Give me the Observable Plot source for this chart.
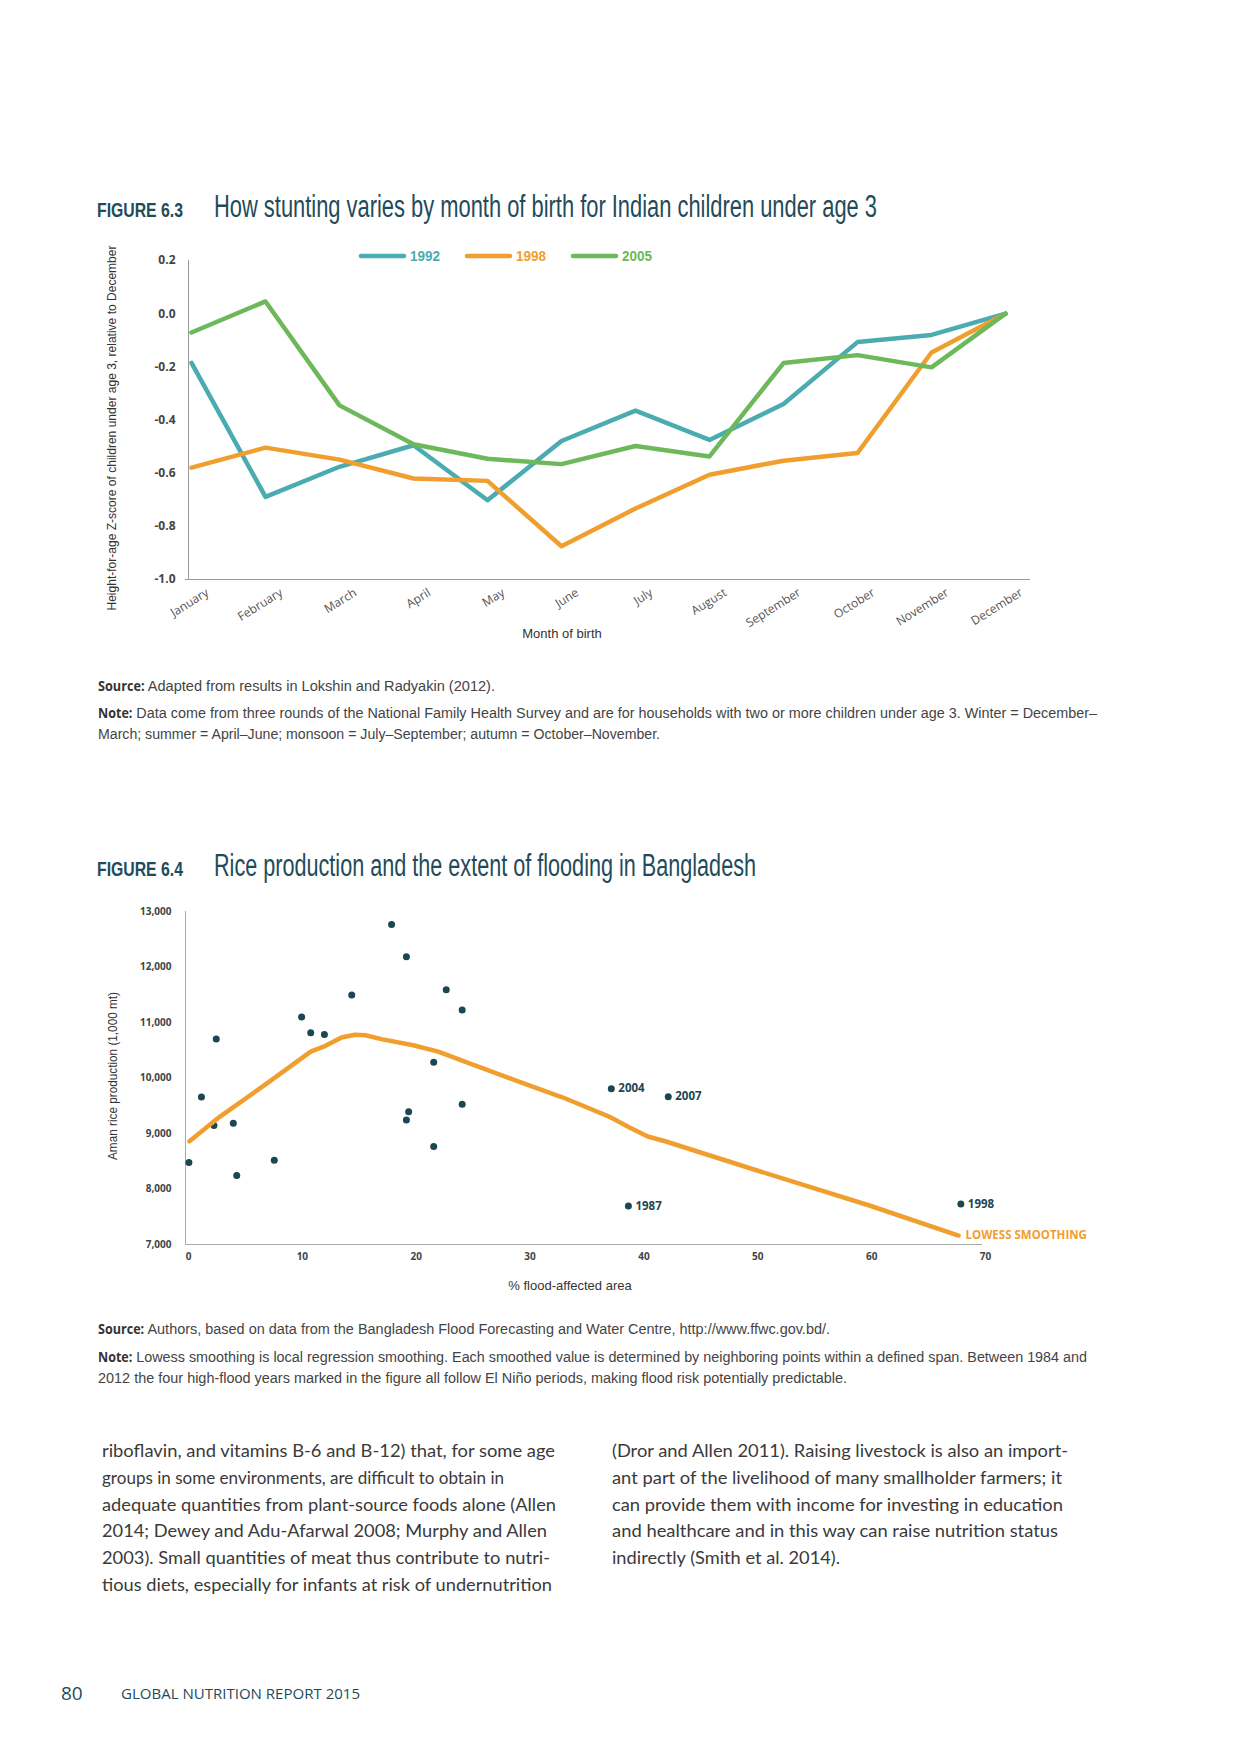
<!DOCTYPE html>
<html><head><meta charset="utf-8">
<script src="https://cdn.jsdelivr.net/npm/d3@7"></script>
<script src="https://cdn.jsdelivr.net/npm/@observablehq/plot@0.6"></script>
<style>
html,body{margin:0;padding:0;background:#fff;}
#page{position:relative;width:1240px;height:1754px;overflow:hidden;background:#fff;}
#page > svg{position:absolute;left:0;}
</style></head><body><div id="page"></div>
<script>
// ---------- Figure 6.3 data ----------
const months = ["January","February","March","April","May","June","July","August","September","October","November","December"];
const seriesNames = ["1992","1998","2005"];
const seriesColors = ["#4aacb0","#f09e2d","#6cb85b"];
const v1992 = [-0.185,-0.689,-0.576,-0.495,-0.702,-0.479,-0.365,-0.475,-0.340,-0.107,-0.080,0.000];
const v1998 = [-0.579,-0.504,-0.549,-0.620,-0.629,-0.875,-0.733,-0.606,-0.553,-0.524,-0.146,0.000];
const v2005 = [-0.071,0.046,-0.345,-0.491,-0.546,-0.566,-0.498,-0.537,-0.186,-0.156,-0.202,0.000];
const yTicks63 = [0.2,0.0,-0.2,-0.4,-0.6,-0.8,-1.0];
const yLabel63 = "Height-for-age Z-score of children under age 3, relative to December";
const xLabel63 = "Month of birth";

// ---------- Figure 6.4 data ----------
const floodPct = [0.3,1.4,2.7,2.5,4.2,4.5,7.8,10.2,11.0,12.2,14.6,18.1,19.4,22.9,24.3,21.8,19.6,19.4,24.3,21.8];
const riceProd = [8476,9658,10702,9142,9184,8242,8518,11098,10816,10786,11494,12766,12184,11590,11224,10282,9394,9244,9526,8764];
const highYears = ["2004","2007","1987","1998"];
const highPct = [37.4,42.4,38.9,68.1];
const highRice = [9808,9662,7695,7730];
const lowessPct = [0.35,3,7,11,12.3,13.7,14.9,15.8,17.2,20,22.2,25,30,33.1,35.7,37.2,39,40.6,42.2,50,60,67.9];
const lowessRice = [8860,9300,9880,10474,10580,10730,10780,10770,10700,10590,10474,10258,9880,9653,9432,9305,9110,8946,8856,8347,7707,7162];
const lowessLabel = "LOWESS SMOOTHING";
const xTicks64 = [0,10,20,30,40,50,60,70];
const yTicks64 = [7000,8000,9000,10000,11000,12000,13000];
const yLabel64 = "Aman rice production (1,000 mt)";
const xLabel64 = "% flood-affected area";

// ---------- page text ----------
const fig63 = "FIGURE 6.3", title63 = "How stunting varies by month of birth for Indian children under age 3";
const fig64 = "FIGURE 6.4", title64 = "Rice production and the extent of flooding in Bangladesh";
const source63 = "Adapted from results in Lokshin and Radyakin (2012).";
const note63 = ["Data come from three rounds of the National Family Health Survey and are for households with two or more children under age 3. Winter = December–",
                "March; summer = April–June; monsoon = July–September; autumn = October–November."];
const source64 = "Authors, based on data from the Bangladesh Flood Forecasting and Water Centre, http://www.ffwc.gov.bd/.";
const note64 = ["Lowess smoothing is local regression smoothing. Each smoothed value is determined by neighboring points within a defined span. Between 1984 and",
                "2012 the four high-flood years marked in the figure all follow El Niño periods, making flood risk potentially predictable."];
const bodyLeft = ["riboflavin, and vitamins B-6 and B-12) that, for some age",
  "groups in some environments, are difficult to obtain in",
  "adequate quantities from plant-source foods alone (Allen",
  "2014; Dewey and Adu-Afarwal 2008; Murphy and Allen",
  "2003). Small quantities of meat thus contribute to nutri-",
  "tious diets, especially for infants at risk of undernutrition"];
const bodyRight = ["(Dror and Allen 2011). Raising livestock is also an import-",
  "ant part of the livelihood of many smallholder farmers; it",
  "can provide them with income for investing in education",
  "and healthcare and in this way can raise nutrition status",
  "indirectly (Smith et al. 2014)."];
const footerNum = "80", footerText = "GLOBAL NUTRITION REPORT 2015";

const TEAL_DARK = "#1f4b5a", DOT = "#1b4654", ORANGE = "#f09e2d";
const NARROW = "'Liberation Sans Narrow', 'Arial Narrow', 'Liberation Sans', sans-serif";
const SANS = "'Open Sans', 'Noto Sans', sans-serif";

const page = d3.select("#page");

function fitText(svg, cls, len){
  d3.select(svg).selectAll("g." + cls + " text")
    .attr("textLength", len).attr("lengthAdjust", "spacingAndGlyphs");
}

// ---------- Figure 6.3 chart ----------
const rows63 = months.flatMap((m,i)=>[
  {month:m, series:seriesNames[0], value:v1992[i]},
  {month:m, series:seriesNames[1], value:v1998[i]},
  {month:m, series:seriesNames[2], value:v2005[i]}
]);
const c1 = Plot.plot({
  width:1240, height:420, marginTop:30, marginBottom:71, marginLeft:185, marginRight:210,
  style:{fontFamily:SANS, fontSize:"12px", color:"#444", background:"transparent"},
  x:{type:"point", domain:months, range:[188,1008], padding:0, axis:null},
  y:{domain:[-1,0.2]},
  color:{domain:seriesNames, range:seriesColors},
  marks:[
    Plot.ruleY([-1], {stroke:"#9a9a9a", strokeWidth:1}),
    Plot.ruleX([months[0]], {y1:-1, y2:0.2, dx:-3, stroke:"#9a9a9a", strokeWidth:1}),
    Plot.axisY(yTicks63, {tickSize:0, tickPadding:10, tickFormat:d=>d.toFixed(1), fontWeight:"bold", fontSize:12, fill:"#444", label:null}),
    Plot.line(rows63, {x:"month", y:"value", z:"series", stroke:"series", strokeWidth:4.5, strokeLinejoin:"round", strokeLinecap:"round"}),
    Plot.text(months, {x:d=>d, text:d=>d, frameAnchor:"bottom", textAnchor:"end", lineAnchor:"middle", rotate:-32, dx:16, dy:12, fill:"#555", fontSize:12, fontFamily:SANS}),
    Plot.text([yLabel63], {text:d=>d, frameAnchor:"left", textAnchor:"middle", lineAnchor:"middle", rotate:-90, dx:-74, dy:8, fontFamily:NARROW, fontSize:12.5, fill:"#333", className:"ylab63"}),
    Plot.text([xLabel63], {text:d=>d, frameAnchor:"bottom", textAnchor:"middle", lineAnchor:"middle", dx:-46, dy:54, fontFamily:NARROW, fontSize:13, fill:"#333"})
  ]
});
fitText(c1, "ylab63", 365);
c1.style.top = "230px";
page.node().appendChild(c1);

// ---------- Figure 6.4 chart ----------
const pts = floodPct.map((x,i)=>({x, y:riceProd[i]}));
const hi = highYears.map((yr,i)=>({yr, x:highPct[i], y:highRice[i]}));
const low = lowessPct.map((x,i)=>({x, y:lowessRice[i]}));
const c2 = Plot.plot({
  width:1240, height:430, marginTop:31, marginBottom:66, marginLeft:185, marginRight:258,
  style:{fontFamily:SANS, fontSize:"10px", color:"#444", background:"transparent"},
  x:{domain:[0,70]},
  y:{domain:[7000,13000]},
  marks:[
    Plot.ruleY([7000], {stroke:"#aaa", strokeWidth:1}),
    Plot.ruleX([0], {y1:7000, y2:13000, stroke:"#aaa", strokeWidth:1}),
    Plot.axisY(yTicks64, {tickSize:0, tickPadding:14, tickFormat:d3.format(","), fontWeight:"bold", fontSize:10, fill:"#444", label:null}),
    Plot.axisX(xTicks64, {tickSize:0, tickPadding:8, tickFormat:d=>String(d), fontWeight:"bold", fontSize:10, fill:"#444", label:null, dx:3}),
    Plot.dot(pts, {x:"x", y:"y", r:3.5, fill:DOT}),
    Plot.dot(hi, {x:"x", y:"y", r:3.5, fill:DOT}),
    Plot.line(low, {x:"x", y:"y", stroke:ORANGE, strokeWidth:4.5, strokeLinejoin:"round", strokeLinecap:"round"}),
    Plot.text(hi, {x:"x", y:"y", text:"yr", dx:7, textAnchor:"start", fontWeight:"bold", fontSize:11.5, fill:DOT, fontFamily:SANS}),
    Plot.text([low[low.length-1]], {x:"x", y:"y", text:()=>lowessLabel, dx:7, textAnchor:"start", fontWeight:"bold", fontSize:11.5, fill:ORANGE, fontFamily:SANS}),
    Plot.text([yLabel64], {text:d=>d, frameAnchor:"left", textAnchor:"middle", lineAnchor:"middle", rotate:-90, dx:-73, dy:-2, fontFamily:NARROW, fontSize:13, fill:"#333", className:"ylab64"}),
    Plot.text([xLabel64], {text:d=>d, frameAnchor:"bottom", textAnchor:"middle", lineAnchor:"middle", dx:-14, dy:41, fontFamily:NARROW, fontSize:13, fill:"#333"})
  ]
});
fitText(c2, "ylab64", 168);
c2.style.top = "880px";
page.node().appendChild(c2);

// ---------- overlay text ----------
const ov = page.append("svg").attr("width",1240).attr("height",1754)
  .style("top","0px").style("pointer-events","none");
function line(x, y, parts, len){
  const t = ov.append("text").attr("x",x).attr("y",y).style("white-space","pre");
  parts.forEach(p=>t.append("tspan").text(p.t).attr("font-family",p.ff).attr("font-size",p.fs)
    .attr("font-weight",p.fw||400).attr("fill",p.fill||"#333").attr("letter-spacing",p.ls||0));
  if(len) t.attr("textLength",len).attr("lengthAdjust","spacingAndGlyphs");
  return t;
}
// titles
line(97,217,[{t:fig63, ff:NARROW, fs:20, fw:700, fill:TEAL_DARK}],86);
line(214,217,[{t:title63, ff:NARROW, fs:31, fill:TEAL_DARK}],663);
line(97,876,[{t:fig64, ff:NARROW, fs:20, fw:700, fill:TEAL_DARK}],86);
line(214,876,[{t:title64, ff:NARROW, fs:31, fill:TEAL_DARK}],542);
// legend
const legX = [361,467,573];
seriesNames.forEach((s,i)=>{
  ov.append("line").attr("x1",legX[i]).attr("x2",legX[i]+43).attr("y1",256).attr("y2",256)
    .attr("stroke",seriesColors[i]).attr("stroke-width",4.5).attr("stroke-linecap","round");
  line(legX[i]+49,261,[{t:s, ff:NARROW, fs:15, fw:700, fill:seriesColors[i]}],30);
});
// source / notes
const lab = t=>({t, ff:SANS, fs:13.5, fw:700, fill:"#333"});
const nt = t=>({t, ff:NARROW, fs:15.5, fill:"#444"});
line(98,691,[lab("Source:"), nt(" "+source63)],397);
line(98,718,[lab("Note:"), nt(" "+note63[0])],999);
line(98,739,[nt(note63[1])],562);
line(98,1334,[lab("Source:"), nt(" "+source64)],732);
line(98,1362,[lab("Note:"), nt(" "+note64[0])],989);
line(98,1383,[nt(note64[1])],749);
// body text
const leftLen = [453,402,454,445,448,450];
const rightLen = [456,450,451,446,228];
bodyLeft.forEach((s,i)=>line(102,1457+26.8*i,[{t:s, ff:"Lato, 'Open Sans', sans-serif", fs:16.5, fill:"#3a3a3a"}],leftLen[i]));
bodyRight.forEach((s,i)=>line(612,1457+26.8*i,[{t:s, ff:"Lato, 'Open Sans', sans-serif", fs:16.5, fill:"#3a3a3a"}],rightLen[i]));
// footer
line(61,1700,[{t:footerNum, ff:SANS, fs:19, fill:TEAL_DARK}]);
line(121,1699,[{t:footerText, ff:SANS, fs:14, fill:TEAL_DARK}],239);
</script></body></html>
